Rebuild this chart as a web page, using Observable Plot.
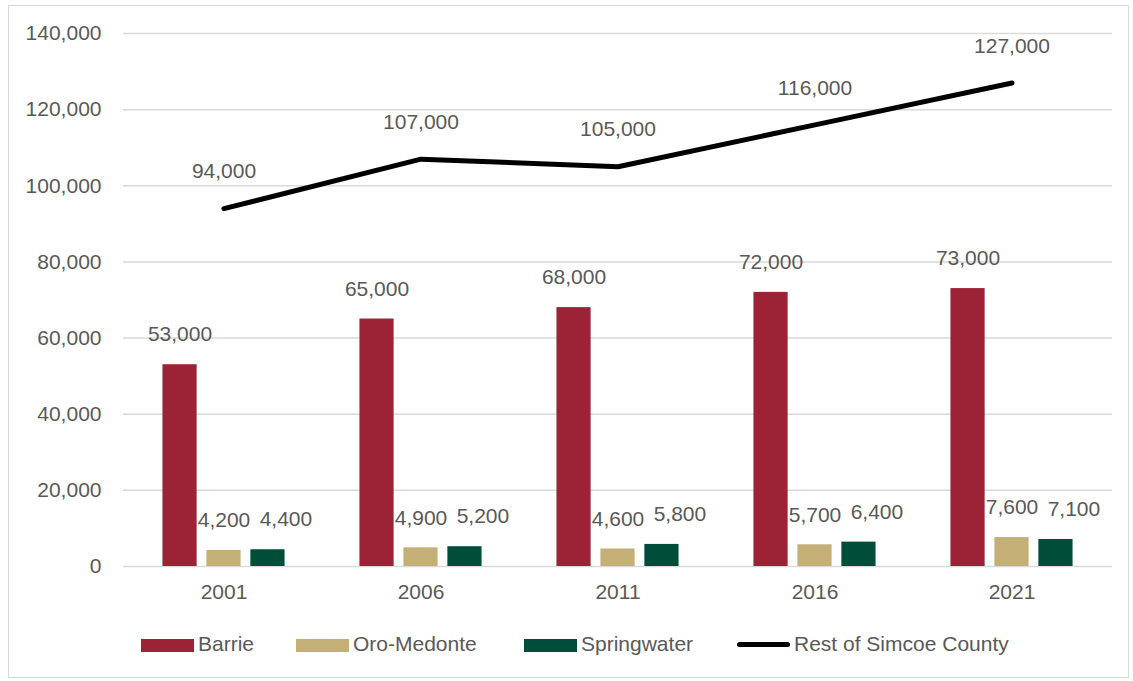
<!DOCTYPE html>
<html>
<head>
<meta charset="utf-8">
<script src="https://cdn.jsdelivr.net/npm/d3@7"></script>
<script src="https://cdn.jsdelivr.net/npm/@observablehq/plot@0.6"></script>
<style>
  html, body { margin: 0; padding: 0; background: #fff; }
  body { width: 1133px; height: 681px; position: relative; overflow: hidden;
         font-family: "Liberation Sans", Arial, sans-serif; color: #595959; }
  #frame { position: absolute; left: 8px; top: 5px; width: 1119px; height: 671px; border: 1px solid #d9d9d9; }
  #chart { position: absolute; left: 0; top: 0; }
  #legend { position: absolute; left: 0; top: 631px; width: 1133px; height: 26px; font-size: 21px; }
  .item { position: absolute; top: 0; height: 26px; line-height: 26px; display: flex; align-items: center; gap: 4px; white-space: nowrap; }
  .sw { width: 53px; height: 13px; margin-top: 3px; }
  .ln { width: 53px; height: 5px; background: #000; border-radius: 3px; margin-top: 1px; }
</style>
</head>
<body>
<div id="frame"></div>
<div id="chart"></div>
<div id="legend"></div>
<script>
const years = ["2001", "2006", "2011", "2016", "2021"];
const seriesNames = ["Barrie", "Oro-Medonte", "Springwater"];
const barrie = [53000, 65000, 68000, 72000, 73000];
const oroMedonte = [4200, 4900, 4600, 5700, 7600];
const springwater = [4400, 5200, 5800, 6400, 7100];
const restName = "Rest of Simcoe County";
const restOfSimcoe = [94000, 107000, 105000, 116000, 127000];
const seriesColors = ["#9c2236", "#c4af77", "#004d3a"];
const yTicks = [0, 20000, 40000, 60000, 80000, 100000, 120000, 140000];

const seriesValues = [barrie, oroMedonte, springwater];
const labelShift = [0, 0, 18]; // style: extra horizontal nudge of data labels
const legendLefts = [141, 296, 524, 737]; // style: legend item positions
const fmt = d3.format(",");
const FONT = '"Liberation Sans", Arial, sans-serif';

const W = 1133, H = 615, mL = 123, mR = 21, mT = 33, mB = 49;
const bw = (W - mL - mR) / years.length;
const sub = d3.scaleBand().domain(seriesNames).range([0, bw]).paddingInner(0.2045).paddingOuter(0.852);

const marks = [Plot.ruleY(yTicks, {stroke: "#d9d9d9", strokeWidth: 1.5})];
seriesNames.forEach((name, i) => {
  const rows = years.map((year, j) => ({year, value: seriesValues[i][j]}));
  const left = sub(name), right = bw - left - sub.bandwidth();
  const center = left + sub.bandwidth() / 2 - bw / 2;
  marks.push(Plot.barY(rows, {x: "year", y: "value", fill: seriesColors[i], insetLeft: left, insetRight: right}));
  marks.push(Plot.text(rows, {x: "year", y: "value", text: d => fmt(d.value), dx: center + labelShift[i], dy: -30, fill: "#595959", fontSize: 21}));
});
const restRows = years.map((year, j) => ({year, value: restOfSimcoe[j]}));
marks.push(Plot.lineY(restRows, {x: "year", y: "value", stroke: "#000", strokeWidth: 5, strokeLinecap: "round", strokeLinejoin: "round"}));
marks.push(Plot.text(restRows, {x: "year", y: "value", text: d => fmt(d.value), dy: -37, fill: "#595959", fontSize: 21}));

const chart = Plot.plot({
  width: W, height: H,
  marginLeft: mL, marginRight: mR, marginTop: mT, marginBottom: mB,
  style: {fontFamily: FONT, fontSize: "21px", color: "#595959", background: "transparent"},
  x: {type: "band", domain: years, padding: 0, tickSize: 0, tickPadding: 18, label: null},
  y: {domain: [0, 140000], ticks: yTicks, tickFormat: fmt, tickSize: 0, tickPadding: 22, label: null},
  marks
});
document.getElementById("chart").appendChild(chart);

const legend = document.getElementById("legend");
const legendItems = seriesNames.map((name, i) => ({name, color: seriesColors[i], line: false}))
  .concat([{name: restName, color: "#000", line: true}]);
legendItems.forEach((d, i) => {
  const it = document.createElement("div"); it.className = "item"; it.style.left = legendLefts[i] + "px";
  const sw = document.createElement("div"); sw.className = d.line ? "ln" : "sw"; sw.style.background = d.color;
  const t = document.createElement("span"); t.textContent = d.name;
  it.append(sw, t); legend.append(it);
});
</script>
</body>
</html>
